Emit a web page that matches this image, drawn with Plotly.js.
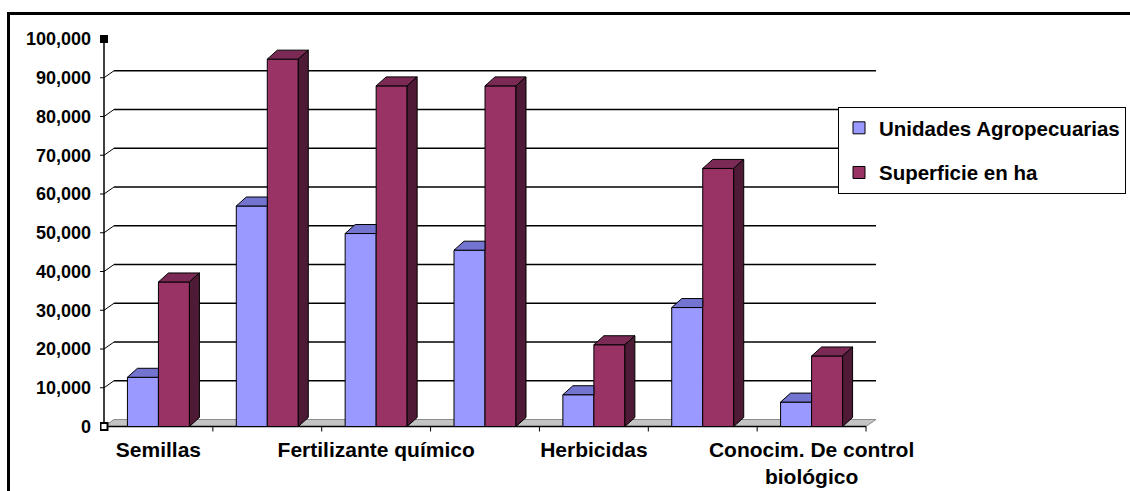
<!DOCTYPE html>
<html>
<head>
<meta charset="utf-8">
<script src="https://cdn.plot.ly/plotly-3.0.1.min.js"></script>
<style>
  html, body { margin: 0; padding: 0; background: #ffffff; }
  #chart { width: 1130px; height: 491px; }
</style>
</head>
<body>
<div id="chart"></div>
<script>
// Categories (only every other group carries a visible label)
const categoryLabels = ["Semillas", "", "Fertilizante químico", "", "Herbicidas", "", "Conocim. De control<br>biológico"];
const seriesNames = ["Unidades Agropecuarias", "Superficie en ha"];
const unidades = [12700, 56900, 49800, 45500, 8200, 30700, 6300];
const superficie = [37300, 94800, 87900, 87900, 21100, 66600, 18200];
const yTickVals = [0, 10000, 20000, 30000, 40000, 50000, 60000, 70000, 80000, 90000, 100000];

// Pixel geometry of the plot frame
const W = 1130, H = 491;
const L = 100, R = 890, T = 28, B = 432;      // plot area in px
const X0 = 104, UX = 108.86;                  // px of x=-0.5, px per category
const Y0 = 426.5, UY = 3.875;                 // px of y=0, px per 1000
const yMax = 100000;

const xr = [-0.5 - (X0 - L) / UX, -0.5 + (R - X0) / UX];
const yr = [-(B - Y0) / UY * 1000, (Y0 - T) / UY * 1000];
const pdx = p => p / UX;            // px -> x data units
const pdy = p => p / UY * 1000;     // px -> y data units

// oblique depth of walls and of the columns
const wallDx = pdx(10), wallDy = pdy(7);
const barDx = pdx(10), barDy = pdy(9);
const barW = pdx(31);

const colors = {
  blue: { front: "#9999FF", top: "#7373D0", side: "#4D4D80" },
  red:  { front: "#993366", top: "#7A2A55", side: "#4E1A35" }
};

const xIdx = categoryLabels.map((_, i) => i);
const nCat = categoryLabels.length;
const xLeft = -0.5, xRight = nCat - 0.5;

function poly(pts) {
  return "M" + pts.map(p => p[0] + "," + p[1]).join("L") + "Z";
}

const shapes = [];
// floor
shapes.push({
  type: "path", layer: "below", xref: "x", yref: "y",
  path: poly([[xLeft, 0], [xRight, 0], [xRight + wallDx, wallDy], [xLeft + wallDx, wallDy]]),
  fillcolor: "#C4C4C4", line: { color: "#8c8c8c", width: 1 }
});
// back-wall gridlines, side-wall diagonals and value ticks
yTickVals.forEach(v => {
  if (v > 0 && v < yMax) {
    shapes.push({ type: "line", layer: "below", xref: "x", yref: "y",
      x0: xLeft + wallDx, y0: v + wallDy, x1: xRight + wallDx, y1: v + wallDy,
      line: { color: "#000000", width: 1.3 } });
    shapes.push({ type: "line", layer: "below", xref: "x", yref: "y",
      x0: xLeft, y0: v, x1: xLeft + wallDx, y1: v + wallDy,
      line: { color: "#000000", width: 1 } });
  }
  shapes.push({ type: "line", layer: "below", xref: "x", yref: "y",
    x0: xLeft - pdx(4), y0: v, x1: xLeft, y1: v,
    line: { color: "#000000", width: 1 } });
});
// value axis and category axis lines
shapes.push({ type: "line", layer: "below", xref: "x", yref: "y",
  x0: xLeft, y0: 0, x1: xLeft, y1: yMax, line: { color: "#000000", width: 1.5 } });
shapes.push({ type: "line", layer: "below", xref: "x", yref: "y",
  x0: xLeft, y0: 0, x1: xRight, y1: 0, line: { color: "#000000", width: 1.5 } });
for (let k = 1; k <= nCat; k++) {
  shapes.push({ type: "line", layer: "below", xref: "x", yref: "y",
    x0: xLeft + k, y0: 0, x1: xLeft + k, y1: -pdy(5), line: { color: "#000000", width: 1 } });
}
// axis selection handles
shapes.push({ type: "rect", layer: "above", xref: "x", yref: "y",
  x0: xLeft - pdx(4), x1: xLeft + pdx(4), y0: yMax - pdy(4), y1: yMax + pdy(4),
  fillcolor: "#000000", line: { width: 0 } });
shapes.push({ type: "rect", layer: "above", xref: "x", yref: "y",
  x0: xLeft - pdx(3.5), x1: xLeft + pdx(3.5), y0: -pdy(3.5), y1: pdy(3.5),
  fillcolor: "#ffffff", line: { color: "#000000", width: 2 } });

// top and side faces of the columns
const edge = { color: "#000000", width: 1 };
xIdx.forEach(i => {
  const vb = unidades[i], vr = superficie[i];
  const bx0 = i - barW, bx1 = i;         // left column
  const rx0 = i, rx1 = i + barW;         // right column
  // left column: the right column hides whatever lies behind it
  if (vr >= vb) {
    shapes.push({ type: "path", layer: "above", xref: "x", yref: "y",
      path: poly([[bx0, vb], [bx1, vb], [bx1, vb + barDy], [bx0 + barDx, vb + barDy]]),
      fillcolor: colors.blue.top, line: edge });
  } else {
    shapes.push({ type: "path", layer: "above", xref: "x", yref: "y",
      path: poly([[bx0, vb], [bx1, vb], [bx1 + barDx, vb + barDy], [bx0 + barDx, vb + barDy]]),
      fillcolor: colors.blue.top, line: edge });
    shapes.push({ type: "path", layer: "above", xref: "x", yref: "y",
      path: poly([[bx1, vr], [bx1, vb], [bx1 + barDx, vb + barDy], [bx1 + barDx, vr + barDy]]),
      fillcolor: colors.blue.side, line: edge });
  }
  // right column
  shapes.push({ type: "path", layer: "above", xref: "x", yref: "y",
    path: poly([[rx0, vr], [rx1, vr], [rx1 + barDx, vr + barDy], [rx0 + barDx, vr + barDy]]),
    fillcolor: colors.red.top, line: edge });
  shapes.push({ type: "path", layer: "above", xref: "x", yref: "y",
    path: poly([[rx1, 0], [rx1, vr], [rx1 + barDx, vr + barDy], [rx1 + barDx, barDy]]),
    fillcolor: colors.red.side, line: edge });
});

// chart frame (top and left edges)
const pxToPaperX = p => (p - L) / (R - L);
const pxToPaperY = p => 1 - (p - T) / (B - T);
shapes.push({ type: "line", layer: "above", xref: "paper", yref: "paper",
  x0: pxToPaperX(7), y0: pxToPaperY(13.5), x1: pxToPaperX(W + 2), y1: pxToPaperY(13.5),
  line: { color: "#000000", width: 3 } });
shapes.push({ type: "line", layer: "above", xref: "paper", yref: "paper",
  x0: pxToPaperX(8.5), y0: pxToPaperY(12), x1: pxToPaperX(8.5), y1: pxToPaperY(H + 2),
  line: { color: "#000000", width: 3 } });

const font = { family: "Liberation Sans, Arial, sans-serif", color: "#000000", weight: "bold" };

const traces = [
  { type: "bar", name: seriesNames[0], x: xIdx, y: unidades,
    width: barW, offset: -barW, legendgroup: "a",
    marker: { color: colors.blue.front, line: { color: "#000000", width: 1 } },
    hoverinfo: "skip" },
  { type: "bar", name: seriesNames[1], x: xIdx, y: superficie,
    width: barW, offset: 0, legendgroup: "b",
    marker: { color: colors.red.front, line: { color: "#000000", width: 1 } },
    hoverinfo: "skip" }
];

const layout = {
  width: W, height: H,
  margin: { l: L, r: W - R, t: T, b: H - B, pad: 0, autoexpand: false },
  paper_bgcolor: "#ffffff", plot_bgcolor: "rgba(0,0,0,0)",
  barmode: "overlay",
  showlegend: true,
  legend: {
    xref: "container", yref: "container",
    x: 838 / W, y: 1 - 107 / H, xanchor: "left", yanchor: "top",
    bgcolor: "#ffffff", bordercolor: "#000000", borderwidth: 1,
    font: Object.assign({}, font, { size: 20.5 }),
    traceorder: "grouped", tracegroupgap: 15
  },
  xaxis: {
    range: xr, tickvals: xIdx, ticktext: categoryLabels,
    showgrid: false, zeroline: false, showline: false, ticks: "",
    tickfont: Object.assign({}, font, { size: 21 }), ticklabelstandoff: 3
  },
  yaxis: {
    range: yr, tickvals: yTickVals, tickformat: ",d",
    showgrid: false, zeroline: false, showline: false, ticks: "",
    tickfont: Object.assign({}, font, { size: 18 }), ticklabelstandoff: 8
  },
  shapes: shapes
};

Plotly.newPlot("chart", traces, layout, { staticPlot: true, displayModeBar: false });
</script>
</body>
</html>
